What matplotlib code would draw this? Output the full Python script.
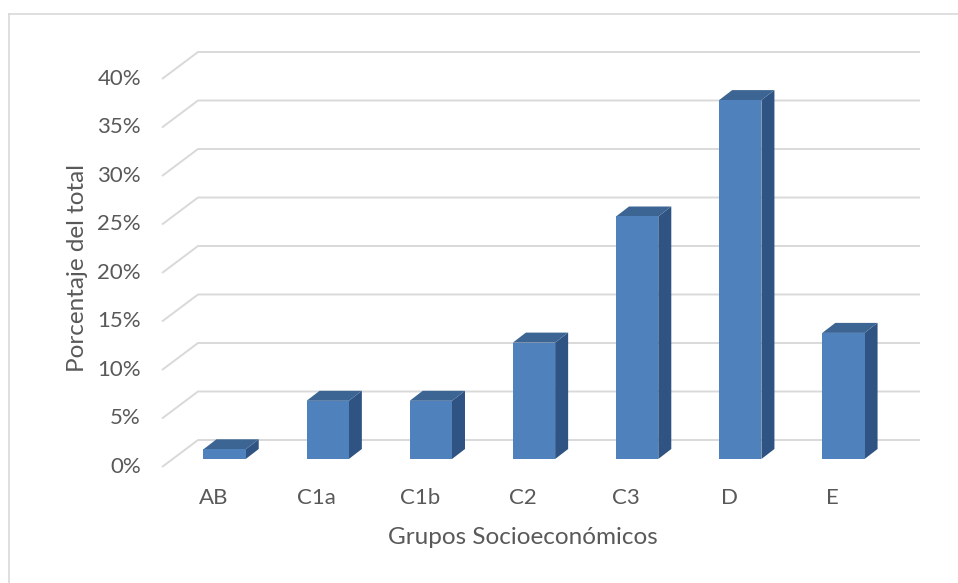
import matplotlib
matplotlib.use("Agg")
import matplotlib.pyplot as plt
from matplotlib.patches import Polygon
from matplotlib.lines import Line2D
import numpy as np

# Share of households by socioeconomic group (%)
categories = ["AB", "C1a", "C1b", "C2", "C3", "D", "E"]
values = [1, 6, 6, 12, 25, 37, 13]
y_ticks = [0, 5, 10, 15, 20, 25, 30, 35, 40]
y_tick_labels = [f"{t}%" for t in y_ticks]

W, H, DPI = 958, 583, 100
fig = plt.figure(figsize=(W / DPI, H / DPI), dpi=DPI)
fig.patch.set_facecolor("white")

plt.rcParams["font.family"] = ["Lato", "DejaVu Sans"]
text_color = "#595959"
grid_color = "#d9d9d9"
front_color = "#4f81bd"
top_color = "#3d6594"
side_color = "#2f5382"
tick_size = 16
title_size = 17.5

# Axes plane = front face of the bars
left_px, right_px = 173, 895
bottom_px, top_px = 459, 71
ax = fig.add_axes([left_px / W, 1 - bottom_px / H,
                   (right_px - left_px) / W, (bottom_px - top_px) / H])
ax.set_xlim(-0.5, len(categories) - 0.5)
ax.set_ylim(0, 40)
ax.axis("off")

# Oblique depth offsets in pixels (x right, y up)
back_off = np.array([25.0, 19.0])    # back wall
front_off = np.array([-11.0, -8.0])  # front edge of the floor
bar_depth = np.array([13.0, 10.0])   # bar thickness
bar_width = 0.41

def px(x, y):
    return ax.transData.transform((x, y))

# Chart area border (top and left edges visible)
fig.add_artist(Line2D([8.5 / W, 1.0], [1 - 14 / H, 1 - 14 / H],
                      transform=fig.transFigure, color="#d9d9d9", lw=1.2))
fig.add_artist(Line2D([8.5 / W, 8.5 / W], [0, 1 - 14 / H],
                      transform=fig.transFigure, color="#d9d9d9", lw=1.2))

xmin, xmax = ax.get_xlim()
for t, lab in zip(y_ticks, y_tick_labels):
    p_front = px(xmin, t) + front_off
    p_back = px(xmin, t) + back_off
    p_end = px(xmax, t) + back_off
    pts = np.array([p_front, p_back, p_end])
    fig.add_artist(Line2D(pts[:, 0], pts[:, 1], transform=None,
                          color=grid_color, lw=1.4, zorder=1,
                          solid_capstyle="butt"))
    fig.text((p_front[0] - 21) / W, p_front[1] / H, lab, ha="right",
             va="center", fontsize=tick_size, color=text_color)

for i, (cat, v) in enumerate(zip(categories, values)):
    x0, x1 = i - bar_width / 2, i + bar_width / 2
    fl, fr = px(x0, 0), px(x1, 0)
    tl, tr = px(x0, v), px(x1, v)
    side = [fr, tr, tr + bar_depth, fr + bar_depth]
    top = [tl, tr, tr + bar_depth, tl + bar_depth]
    front = [fl, fr, tr, tl]
    for poly, col in ((side, side_color), (top, top_color), (front, front_color)):
        fig.add_artist(Polygon(poly, closed=True, transform=None,
                               facecolor=col, edgecolor="none", zorder=3))
    lp = px(i, 0) + front_off
    fig.text(lp[0] / W, (lp[1] - 31) / H, cat, ha="center", va="center",
             fontsize=tick_size, color=text_color)

fig.text(523 / W, 1 - 537 / H, "Grupos Socioeconómicos", ha="center",
         va="center", fontsize=title_size, color=text_color)
fig.text(77 / W, 1 - 268 / H, "Porcentaje del total", ha="center",
         va="center", rotation=90, fontsize=title_size, color=text_color)

fig.savefig("out.png", dpi=DPI, facecolor="white")
